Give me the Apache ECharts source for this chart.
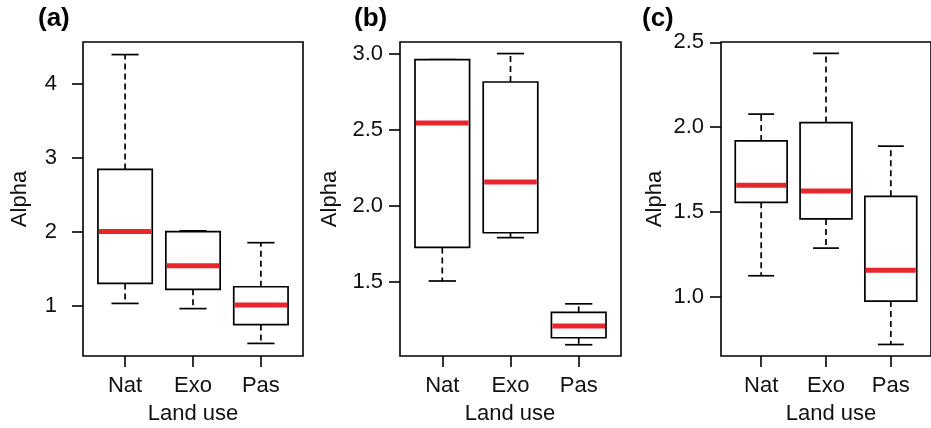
<!DOCTYPE html>
<html>
<head>
<meta charset="utf-8">
<script src="https://cdn.jsdelivr.net/npm/echarts@6/dist/echarts.min.js"></script>
<style>
html,body{margin:0;padding:0;background:#fff;}
#main{width:931px;height:428px;}
</style>
</head>
<body>
<div id="main"></div>
<script>
// Categories (land use)
const categories = ['Nat', 'Exo', 'Pas'];
// Box statistics per category: [lower whisker, Q1, median, Q3, upper whisker]
const alphaA = [
  [1.03, 1.30, 2.00, 2.84, 4.39],
  [0.96, 1.22, 1.54, 2.00, 2.01],
  [0.49, 0.745, 1.01, 1.255, 1.85]
];
const alphaB = [
  [1.505, 1.726, 2.543, 2.96, 2.96],
  [1.79, 1.822, 2.155, 2.813, 3.00],
  [1.086, 1.132, 1.209, 1.299, 1.355]
];
const alphaC = [
  [1.124, 1.557, 1.658, 1.919, 2.077],
  [1.287, 1.459, 1.624, 2.027, 2.435],
  [0.719, 0.975, 1.156, 1.592, 1.888]
];
// Y tick labels per panel
const yTicksA = [1, 2, 3, 4];
const yTicksB = [1.5, 2.0, 2.5, 3.0];
const yTicksC = [1.0, 1.5, 2.0, 2.5];
const panelLabels = ['(a)', '(b)', '(c)'];
const xTitle = 'Land use';
const yTitle = 'Alpha';

const FONT = '"Liberation Sans", Arial, sans-serif';
const FS = 22;
const chart = echarts.init(document.getElementById('main'), null, {renderer: 'canvas'});

const panels = [
  {data: alphaA, ticks: yTicksA, min: 0.32, max: 4.56, left: 83, width: 220, labMargin: 26, dec: 0, alphaX: 20, labelX: 38, landX: 193},
  {data: alphaB, ticks: yTicksB, min: 1.012, max: 3.076, left: 400, width: 221, labMargin: 17, dec: 1, alphaX: 330, labelX: 354, landX: 510},
  {data: alphaC, ticks: yTicksC, min: 0.651, max: 2.502, left: 721, width: 221, labMargin: 17, dec: 1, alphaX: 655, labelX: 642, landX: 831}
];
const TOP = 42, HEIGHT = 314;

function renderBox(params, api) {
  const x = api.value(0);
  const lo = api.value(1), q1 = api.value(2), med = api.value(3), q3 = api.value(4), hi = api.value(5);
  const pMed = api.coord([x, med]);
  const cx = pMed[0];
  const half = api.size([0.4, 0])[0];
  const cap = half / 2;
  const yLo = api.coord([x, lo])[1];
  const yQ1 = api.coord([x, q1])[1];
  const yQ3 = api.coord([x, q3])[1];
  const yHi = api.coord([x, hi])[1];
  const dash = {stroke: '#000', lineWidth: 1.7, lineDash: [6, 4]};
  const solid = {stroke: '#000', lineWidth: 1.7};
  return {
    type: 'group',
    children: [
      {type: 'line', shape: {x1: cx, y1: yQ3, x2: cx, y2: yHi}, style: dash},
      {type: 'line', shape: {x1: cx, y1: yQ1, x2: cx, y2: yLo}, style: dash},
      {type: 'line', shape: {x1: cx - cap, y1: yHi, x2: cx + cap, y2: yHi}, style: solid},
      {type: 'line', shape: {x1: cx - cap, y1: yLo, x2: cx + cap, y2: yLo}, style: solid},
      {type: 'rect', shape: {x: cx - half, y: yQ3, width: 2 * half, height: yQ1 - yQ3}, style: {fill: '#fff', stroke: '#000', lineWidth: 1.7}},
      {type: 'line', shape: {x1: cx - half + 1, y1: pMed[1], x2: cx + half - 1, y2: pMed[1]}, style: {stroke: '#e8262b', lineWidth: 5}}
    ]
  };
}

const grids = [], xAxes = [], yAxes = [], series = [], graphics = [];
panels.forEach((p, i) => {
  grids.push({left: p.left, top: TOP, width: p.width, height: HEIGHT, show: true, borderColor: '#000', borderWidth: 1.6, backgroundColor: 'transparent'});
  xAxes.push({
    type: 'value', gridIndex: i, min: 0.38, max: 3.62,
    axisLine: {show: false},
    splitLine: {show: false},
    axisTick: {show: true, customValues: [1, 2, 3], length: 11, lineStyle: {color: '#000', width: 1.6}},
    axisLabel: {customValues: [1, 2, 3], margin: 19, fontSize: FS, color: '#111', fontFamily: FONT,
      formatter: v => categories[Math.round(v) - 1] || ''}
  });
  yAxes.push({
    type: 'value', gridIndex: i, min: p.min, max: p.max,
    axisLine: {show: false},
    splitLine: {show: false},
    axisTick: {show: true, customValues: p.ticks, length: 11, lineStyle: {color: '#000', width: 1.6}},
    axisLabel: {customValues: p.ticks, margin: p.labMargin, fontSize: FS, color: '#111', fontFamily: FONT,
      formatter: v => Number(v).toFixed(p.dec)}
  });
  series.push({
    type: 'custom', xAxisIndex: i, yAxisIndex: i,
    renderItem: renderBox,
    encode: {x: 0, y: [1, 2, 3, 4, 5]},
    data: p.data.map((d, k) => [k + 1].concat(d)),
    silent: true, animation: false
  });
  graphics.push({type: 'text', left: p.labelX, top: 6, style: {text: panelLabels[i], font: 'bold 26px ' + FONT, fill: '#000'}});
  graphics.push({type: 'text', x: p.alphaX, y: TOP + HEIGHT / 2, rotation: Math.PI / 2,
    style: {text: yTitle, font: FS + 'px ' + FONT, fill: '#111', align: 'center', verticalAlign: 'middle'}});
  graphics.push({type: 'text', x: p.landX, y: 414,
    style: {text: xTitle, font: FS + 'px ' + FONT, fill: '#111', align: 'center', verticalAlign: 'middle'}});
});

chart.setOption({
  animation: false,
  backgroundColor: '#fff',
  grid: grids,
  xAxis: xAxes,
  yAxis: yAxes,
  series: series,
  graphic: graphics
});
</script>
</body>
</html>
